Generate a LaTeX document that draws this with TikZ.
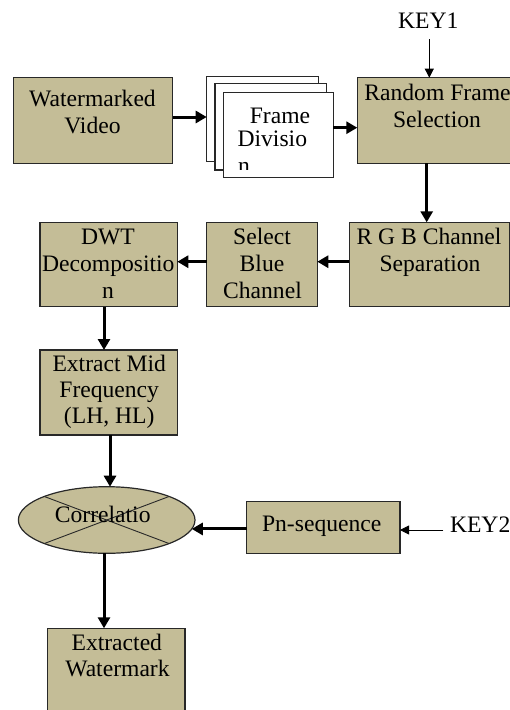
\documentclass[tikz,border=0pt]{standalone}
\usepackage{fontspec}
\setmainfont{Liberation Serif}
\usetikzlibrary{arrows.meta,shapes.geometric}
\definecolor{tanfill}{RGB}{196,189,151}
\definecolor{edge}{RGB}{40,40,40}
\tikzset{
  box/.style={draw=edge, line width=1.2pt, fill=tanfill, inner sep=0pt, outer sep=0pt},
  framebox/.style={draw=edge, line width=1.2pt, fill=white, inner sep=0pt, outer sep=0pt},
  txt/.style={inner sep=0pt, outer sep=0pt, anchor=base, font=\fontsize{23.6}{27}\selectfont},
  bigarrow/.style={line width=3pt, -{Triangle[length=11pt,width=12pt]}},
  thinarrow/.style={line width=0.8pt, -{Triangle[length=9pt,width=9pt]}}
}
\begin{document}
\begin{tikzpicture}[x=1pt,y=-1pt]
\useasboundingbox (0,0) rectangle (510,710);
% boxes
\node[box, minimum width=159.4, minimum height=85.6] (wv) at (93,120.5) {};
\node[framebox, minimum width=111.6, minimum height=85] (back) at (262.5,119.2) {};
\node[framebox, minimum width=111.7, minimum height=86.7] (mid) at (270.85,126.65) {};
\node[framebox, minimum width=110, minimum height=84.6] (front) at (278.3,135) {};
\node[box, minimum width=159.4, minimum height=85.6] (rfs) at (437,120.5) {};
\node[box, minimum width=160, minimum height=84.4] (rgb) at (429.3,264.5) {};
\node[box, minimum width=110.6, minimum height=84.4] (sel) at (262,264.5) {};
\node[box, minimum width=137.3, minimum height=84.4] (dwt) at (108.65,264.5) {};
\node[box, minimum width=137.3, minimum height=85] (ext) at (108.65,392.5) {};
\node[box, ellipse, minimum width=176.6, minimum height=66.6] (corr) at (106.7,520) {};
\node[box, minimum width=153.3, minimum height=51.6] (pn) at (323.35,527.5) {};
\node[box, minimum width=137.7, minimum height=101.7] (exw) at (116.15,679.15) {};
% cross in ellipse
\draw[edge, line width=0.9pt] (corr.north west) -- (corr.south east);
\draw[edge, line width=0.9pt] (corr.south west) -- (corr.north east);
% texts
\node[txt] (wv1) at (92.5,106) {Watermarked};
\node[txt] (wv2) at (92.5,133.3) {Video};
\node[txt] (fd1) at (280,123.3) {Frame};
\node[txt] (fd2) at (272.3,146.7) {Divisio};
\begin{scope}
\clip (front.north west) rectangle (330,169.5);
\node[txt, anchor=base west] (fd3) at (238,173.5) {n};
\end{scope}
\node[txt] (rf1) at (437.5,100) {Random Frame};
\node[txt] (rf2) at (437,127.7) {Selection};
\node[txt] (key1) at (428.3,28.3) {KEY1};
\node[txt] (rg1) at (429,244.3) {R G B Channel};
\node[txt] (rg2) at (430,271) {Separation};
\node[txt] (sb1) at (262,244.3) {Select};
\node[txt] (sb2) at (262,271) {Blue};
\node[txt] (sb3) at (262.5,298.5) {Channel};
\node[txt] (dw1) at (108,244.3) {DWT};
\node[txt] (dw2) at (108.3,271) {Decompositio};
\node[txt] (dw3) at (108,298.5) {n};
\node[txt] (ex1) at (109.2,371.7) {Extract Mid};
\node[txt] (ex2) at (109.2,397.5) {Frequency};
\node[txt] (ex3) at (109.2,423.5) {(LH, HL)};
\node[txt] (co1) at (102.7,522) {Correlatio};
\node[txt] (pn1) at (321.7,531.7) {Pn-sequence};
\node[txt, anchor=base west] (key2) at (450,532.7) {KEY2};
\node[txt] (ew1) at (116.8,650) {Extracted};
\node[txt] (ew2) at (117.5,676.3) {Watermark};
% connectors
\coordinate (k1a) at ([yshift=-11pt]key1.south -| 429.3,0);
\draw[thinarrow] (k1a) -- (rfs.north -| k1a);
\coordinate (k2a) at ([xshift=-6.7pt]key2.west);
\draw[thinarrow] (k2a |- 0,530) -- (pn.east |- 0,530);
\draw[bigarrow] (wv.east |- 0,117) -- (back.west |- 0,117);
\draw[bigarrow] (front.east |- 0,127.7) -- (rfs.west |- 0,127.7);
\draw[bigarrow] (rfs.south -| 426.7,0) -- (rgb.north -| 426.7,0);
\draw[bigarrow] (rgb.west |- 0,261.7) -- (sel.east |- 0,261.7);
\draw[bigarrow] (sel.west |- 0,261.7) -- (dwt.east |- 0,261.7);
\draw[bigarrow] (dwt.south -| 104,0) -- (ext.north -| 104,0);
\draw[bigarrow] (ext.south -| 110,0) -- (corr.north -| 110,0);
\coordinate (ct) at (corr.-6.8);
\draw[bigarrow] (pn.west |- ct) -- (ct);
\draw[bigarrow] (corr.south -| 104,0) -- (exw.north -| 104,0);
\end{tikzpicture}
\end{document}
